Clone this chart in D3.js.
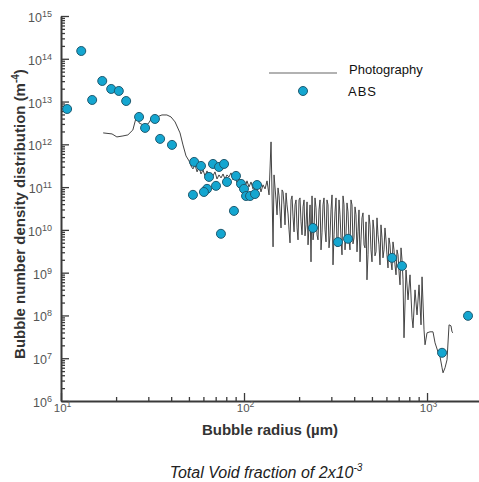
<!DOCTYPE html>
<html><head><meta charset="utf-8">
<script src="https://cdn.jsdelivr.net/npm/d3@7"></script>
<style>body{margin:0;background:#fff} svg{display:block;font-family:"Liberation Sans",Arial,sans-serif}</style>
</head><body><svg id="c" width="479" height="482"></svg>
<script>
// Photography curve: bubble radius (um) and number density (m^-4)
const photoRadius = [17.0,19.0,20.2,21.8,23.2,24.7,25.7,26.4,26.7,28.1,29.9,31.4,33.5,35.6,37.9,39.9,42.0,44.7,46.4,48.2,50.1,51.3,52.6,
54.0,55.4,56.8,58.2,59.7,61.2,62.8,64.4,66.0,67.7,69.4,71.2,73.0,74.9,76.8,78.7,80.7,82.8,84.9,87.1,89.3,91.6,93.9,96.3,98.7,101.3,103.8,106.5,109.2,112.0,114.8,117.8,120.8,123.8,127.0,130.3,133.6,137.0,140.5,144.1,
145.9,149.6,151.5,153.4,155.4,157.3,159.3,161.4,163.4,165.5,167.5,169.7,171.8,174.0,176.2,178.4,180.7,183.0,185.3,187.7,190.0,192.4,194.9,197.3,199.8,202.3,204.9,207.5,210.2,212.8,215.4,218.2,221.0,223.8,226.6,229.5,232.3,235.3,238.3,241.3,244.3,247.4,250.5,253.7,256.9,260.2,263.5,266.8,270.2,273.6,277.1,280.6,284.1,287.7,291.4,295.0,298.8,302.6,306.4,310.3,314.2,318.2,322.2,326.3,330.4,334.6,338.9,343.1,347.5,351.8,356.3,360.8,365.4,370.0,374.7,379.4,384.2,389.1,394.0,399.0,404.1,409.2,414.4,419.6,424.9,430.3,435.7,441.2,446.8,452.5,458.2,464.2,469.8,475.9,481.8,488.0,494.1,500.5,506.7,513.2,519.5,526.3,532.8,539.7,546.4,553.5,560.3,567.6,574.6,582.1,589.2,596.9,604.2,612.1,619.6,627.7,635.5,643.7,651.7,660.1,668.3,677.0,685.5,694.2,703.0,712.0,720.9,730.1,739.3,748.6,
767.7,787.4,807.4,827.9,838.5,859.8,881.9,904.3,927.3,939.1,962.9,975.2,1000,1038,1078,1106,1148,1178,1208,1223,1254,1286,1319,1352,1369,1387];
const photoDensity = [1.85e12,1.75e12,1.49e12,1.57e12,1.66e12,2.17e12,4.14e12,4.86e12,3.16e12,2.84e12,3.00e12,4.14e12,4.37e12,4.86e12,4.86e12,4.37e12,3.34e12,1.85e12,9.68e11,5.36e11,4.09e11,3.13e11,2.66e11,
3.30e11,2.27e11,2.96e11,2.03e11,2.52e11,1.83e11,2.39e11,1.64e11,2.15e11,1.83e11,2.27e11,1.55e11,1.93e11,1.64e11,2.03e11,1.55e11,1.93e11,1.73e11,2.15e11,1.47e11,1.83e11,1.25e11,1.64e11,1.13e11,1.47e11,9.58e10,1.40e11,1.01e11,1.32e11,9.08e10,1.19e11,8.60e10,1.25e11,7.72e10,1.13e11,9.08e10,1.40e11,6.57e10,1.14e12,4.01e9,
1.93e11,5.02e10,2.24e10,9.58e10,6.23e10,2.63e10,1.11e10,8.60e10,7.72e10,3.84e10,1.31e10,7.32e10,3.84e10,2.36e10,1.00e10,4.97e9,5.02e10,6.23e10,2.01e10,8.98e9,3.84e10,5.02e10,1.11e10,5.84e9,5.02e10,5.59e10,1.54e10,7.64e9,3.45e10,5.02e10,7.24e9,1.31e10,4.51e10,4.46e9,1.24e10,3.84e10,1.79e9,6.23e10,5.84e9,1.00e10,5.59e10,3.27e10,7.64e9,5.84e9,2.93e10,5.02e10,3.41e9,8.51e9,3.84e10,5.59e10,1.00e10,5.24e9,5.02e10,3.84e10,3.80e9,7.24e9,2.93e10,6.57e10,1.52e9,7.64e9,2.63e10,5.59e10,4.01e9,5.84e9,5.02e10,2.24e10,6.50e9,2.61e9,6.23e10,3.84e10,3.41e9,7.64e9,4.27e10,2.63e10,5.84e9,3.41e9,5.02e10,3.84e10,4.71e9,6.50e9,3.45e10,2.24e10,3.06e9,8.98e9,2.93e10,1.79e9,5.84e9,1.91e10,2.50e10,4.46e9,3.80e9,1.54e10,6.79e8,2.61e9,2.24e10,1.31e10,3.41e9,1.79e9,1.71e10,1.00e10,2.47e9,3.06e9,1.91e10,7.64e9,4.46e9,1.52e9,1.31e10,6.50e9,2.22e9,3.41e9,1.11e10,5.84e9,2.61e9,1.29e9,6.50e9,4.46e9,1.79e9,1.16e9,5.24e9,3.41e9,1.52e9,8.89e8,3.41e9,2.61e9,1.04e9,5.19e8,3.80e9,1.99e9,6.79e8,3.00e7,
1.16e9,2.31e8,8.89e8,8.79e7,5.13e7,3.96e8,1.03e8,5.19e8,6.03e7,7.98e8,4.61e7,2.06e7,3.92e7,4.14e7,4.14e7,2.29e7,1.41e7,1.08e7,5.97e6,4.56e6,5.97e6,9.18e6,6.03e7,5.71e7,4.14e7,3.92e7];
// ABS measurements
const absRadius = [10.8,12.9,14.8,16.8,18.8,20.7,22.7,26.7,28.8,32.6,34.8,40.4,53.4,58.2,67.7,73.0,77.8,64.4,70.3,62.8,60.4,52.6,80.7,90.4,96.3,100,102.6,107.9,114.8,117.8,88.1,74.8,238,326,370,644,730,1208,1675];
const absDensity = [6.7e12,1.52e14,1.09e13,3.03e13,1.97e13,1.77e13,1.03e13,4.37e12,2.42e12,3.92e12,1.34e12,9.7e11,3.88e11,3.13e11,3.48e11,2.96e11,3.48e11,1.73e11,1.07e11,9.1e10,7.7e10,6.6e10,1.32e11,1.83e11,1.19e11,9.1e10,6.2e10,6.2e10,6.9e10,1.12e11,2.78e10,8.1e9,1.11e10,5.2e9,6.2e9,2.22e9,1.44e9,1.34e7,9.8e7];
// Axis ticks
const xTickValues = [10,100,1000];
const xTickExponents = ["1","2","3"];
const yTickValues = [1e6,1e7,1e8,1e9,1e10,1e11,1e12,1e13,1e14,1e15];
const yTickExponents = ["6","7","8","9","10","11","12","13","14","15"];
const xDomain = [10,1923];
const yDomain = [1e6,1e15];

const svg = d3.select("#c");
const x = d3.scaleLog().domain(xDomain).range([61,479]);
const y = d3.scaleLog().domain(yDomain).range([401,16]);

const minor = (vals, lo, hi) => { const out=[]; vals.forEach(v=>{for(let k=2;k<10;k++){const m=v*k; if(m>lo&&m<hi) out.push(m);}}); return out; };
const xMinor = minor([10,100,1000], xDomain[0], xDomain[1]);
const yMinor = minor(yTickValues, yDomain[0], yDomain[1]);

// photography line
const line = d3.line().x((d,i)=>x(photoRadius[i])).y((d,i)=>y(photoDensity[i]));
svg.append("path").attr("d", line(photoRadius)).attr("fill","none").attr("stroke","#444").attr("stroke-width",1);

// axes
const gx = svg.append("g").attr("transform","translate(0,401)");
gx.call(d3.axisBottom(x).tickValues(xTickValues).tickSize(-8).tickSizeOuter(0).tickFormat(""));
const gxm = svg.append("g").attr("transform","translate(0,401)");
gxm.call(d3.axisBottom(x).tickValues(xMinor).tickSize(-4).tickSizeOuter(0).tickFormat(""));
gxm.select(".domain").remove();
const gy = svg.append("g").attr("transform","translate(61,0)");
gy.call(d3.axisLeft(y).tickValues(yTickValues).tickSize(-8).tickSizeOuter(0).tickFormat(""));
const gym = svg.append("g").attr("transform","translate(61,0)");
gym.call(d3.axisLeft(y).tickValues(yMinor).tickSize(-4).tickSizeOuter(0).tickFormat(""));
gym.select(".domain").remove();
svg.selectAll(".domain").attr("stroke","#3a3a3a").attr("stroke-width",2);
svg.selectAll(".tick line").attr("stroke","#3a3a3a").attr("stroke-width",1.3);

// tick labels
yTickValues.forEach((v,i)=>{
  const t = svg.append("text").attr("x",52).attr("y",y(v)+6).attr("text-anchor","end").attr("fill","#555").style("font-size","12.5px");
  t.append("tspan").text("10");
  t.append("tspan").attr("dy",-5).style("font-size","9px").text(yTickExponents[i]);
});
xTickValues.forEach((v,i)=>{
  const t = svg.append("text").attr("x",x(v)+1.5).attr("y",412).attr("text-anchor","middle").attr("fill","#555").style("font-size","11.5px");
  t.append("tspan").text("10");
  t.append("tspan").attr("dy",-5).style("font-size","8.5px").text(xTickExponents[i]);
});

// ABS markers
svg.append("g").selectAll("circle").data(absRadius).join("circle")
  .attr("cx",(d)=>x(d)).attr("cy",(d,i)=>y(absDensity[i])).attr("r",4.5)
  .attr("fill","#14a6d0").attr("stroke","#1f5a70").attr("stroke-width",1);

// axis titles
svg.append("text").attr("x",270).attr("y",435).attr("text-anchor","middle").attr("fill","#333")
  .style("font-size","15px").style("font-weight","bold").text("Bubble radius (\u00b5m)");
const yt = svg.append("text").attr("transform","translate(25,214) rotate(-90)").attr("text-anchor","middle").attr("fill","#333")
  .style("font-size","15px").style("font-weight","bold");
yt.append("tspan").text("Bubble number density distribution (m");
yt.append("tspan").attr("dy",-6).style("font-size","10px").text("-4");
yt.append("tspan").attr("dy",6).text(")");

// legend
svg.append("line").attr("x1",269).attr("x2",337).attr("y1",73).attr("y2",73).attr("stroke","#999").attr("stroke-width",1.5);
svg.append("text").attr("x",349).attr("y",74).attr("fill","#111").style("font-size","13px").text("Photography");
svg.append("circle").attr("cx",303).attr("cy",91).attr("r",4.5).attr("fill","#14a6d0").attr("stroke","#1f5a70");
svg.append("text").attr("x",348).attr("y",96).attr("fill","#111").style("font-size","13px").style("letter-spacing","1px").text("ABS");

// caption
const cap = svg.append("text").attr("x",266).attr("y",478).attr("text-anchor","middle").attr("fill","#222")
  .style("font-size","16px").style("font-style","italic");
cap.append("tspan").text("Total Void fraction of 2x10");
cap.append("tspan").attr("dy",-7).style("font-size","10px").text("-3");
</script></body></html>
